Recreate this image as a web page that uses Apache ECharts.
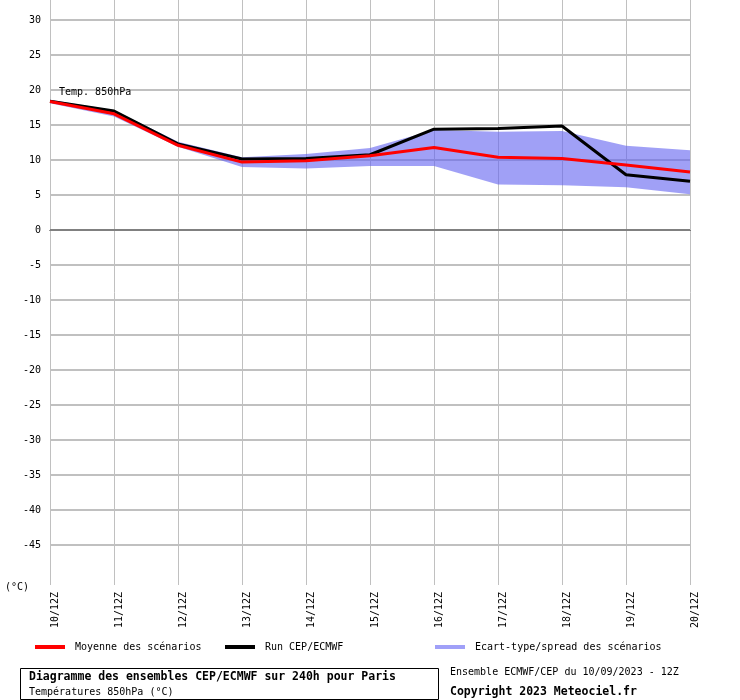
<!DOCTYPE html>
<html>
<head>
<meta charset="utf-8">
<script src="https://cdn.jsdelivr.net/npm/echarts@6/dist/echarts.min.js"></script>
<style>
html,body{margin:0;padding:0;background:#fff;}
#chart{width:740px;height:700px;}
</style>
</head>
<body>
<div id="chart"></div>
<script>
const categories = ['10/12Z','11/12Z','12/12Z','13/12Z','14/12Z','15/12Z','16/12Z','17/12Z','18/12Z','19/12Z','20/12Z'];
const meanVals   = [18.35, 16.6, 12.1, 9.7, 9.9, 10.6, 11.8, 10.4, 10.2, 9.3, 8.3];
const runVals    = [18.4, 17.0, 12.3, 10.15, 10.2, 10.75, 14.4, 14.5, 14.85, 7.9, 6.95];
const spreadHigh = [18.6, 17.1, 12.6, 10.4, 10.85, 11.7, 14.3, 14.05, 14.15, 12.05, 11.4];
const spreadLow  = [18.1, 16.2, 11.9, 9.0, 8.8, 9.15, 9.15, 6.5, 6.4, 6.1, 5.1];
const yTicks = [30, 25, 20, 15, 10, 5, 0, -5, -10, -15, -20, -25, -30, -35, -40, -45];
const yMin = -50.714, yMax = 32.857;

const MONO = '"DejaVu Sans Mono", monospace';
const names = {
  mean: 'Moyenne des scénarios',
  run: 'Run CEP/ECMWF',
  spread: 'Ecart-type/spread des scénarios'
};

const chart = echarts.init(document.getElementById('chart'), null, {renderer: 'canvas'});
const spreadDiff = spreadHigh.map((h, i) => +(h - spreadLow[i]).toFixed(3));

function legendFor(name, color, left) {
  return {
    data: [{name: name, itemStyle: {color: color}}],
    left: left, top: 640, padding: 0,
    icon: 'rect', itemWidth: 30, itemHeight: 4,
    selectedMode: false,
    textStyle: {fontFamily: MONO, fontSize: 10, color: '#000', lineHeight: 14, padding: [0, 0, 0, 5]}
  };
}

chart.setOption({
  animation: false,
  backgroundColor: '#fff',
  title: [
    {
      text: 'Diagramme des ensembles CEP/ECMWF sur 240h pour Paris',
      subtext: 'Températures 850hPa (°C)',
      left: 20, top: 668,
      padding: [2, 43, 2, 9],
      itemGap: 2,
      borderColor: '#000', borderWidth: 1,
      textStyle: {fontFamily: MONO, fontSize: 11.5, fontWeight: 'bold', color: '#000', lineHeight: 14},
      subtextStyle: {fontFamily: MONO, fontSize: 10, color: '#000', lineHeight: 12}
    },
    {
      text: 'Ensemble ECMWF/CEP du 10/09/2023 - 12Z',
      subtext: 'Copyright 2023 Meteociel.fr',
      left: 450, top: 665, padding: 0, itemGap: 7,
      textStyle: {fontFamily: MONO, fontSize: 10, fontWeight: 'normal', color: '#000', lineHeight: 14},
      subtextStyle: {fontFamily: MONO, fontSize: 11.5, fontWeight: 'bold', color: '#000', lineHeight: 12}
    }
  ],
  legend: [
    legendFor(names.mean, '#ff0000', 35),
    legendFor(names.run, '#000000', 225),
    legendFor(names.spread, '#a0a0f8', 435)
  ],
  grid: {left: 50, right: 50, top: 0, bottom: 115, containLabel: false},
  xAxis: {
    type: 'category',
    data: categories,
    boundaryGap: false,
    axisLine: {show: true, lineStyle: {color: '#000', width: 1}},
    axisTick: {show: false},
    splitLine: {show: true, interval: 0, lineStyle: {color: '#c0c0c0', width: 1}},
    axisLabel: {
      interval: 0, rotate: 90, margin: 7, verticalAlign: 'top',
      fontFamily: MONO, fontSize: 10, color: '#000'
    }
  },
  yAxis: {
    type: 'value',
    min: yMin, max: yMax,
    axisLine: {show: false},
    axisTick: {show: false},
    splitLine: {show: false},
    axisLabel: {
      customValues: yTicks,
      margin: 9, fontFamily: MONO, fontSize: 10, color: '#000'
    }
  },
  graphic: [
    {type: 'text', left: 59, top: 87, style: {text: 'Temp. 850hPa', font: '10px ' + MONO, fill: '#000'}, z: 50},
    {type: 'text', left: 5, top: 582, style: {text: '(°C)', font: '10px ' + MONO, fill: '#000'}, z: 50}
  ],
  series: [
    {
      name: 'grid',
      type: 'line',
      data: [],
      silent: true,
      z: 1,
      markLine: {
        silent: true, symbol: 'none', animation: false, z: 1,
        label: {show: false},
        lineStyle: {color: '#c0c0c0', width: 2, type: 'solid'},
        data: yTicks.map(v => v === 0
          ? {yAxis: v, lineStyle: {color: '#808080', width: 2, type: 'solid'}}
          : {yAxis: v})
      }
    },
    {
      name: 'bandLow',
      type: 'line',
      data: spreadLow,
      stack: 'band',
      symbol: 'none',
      silent: true,
      lineStyle: {width: 0, opacity: 0},
      z: 2
    },
    {
      name: names.spread,
      type: 'line',
      data: spreadDiff,
      stack: 'band',
      symbol: 'none',
      silent: true,
      itemStyle: {color: '#a0a0f8'},
      lineStyle: {width: 0, opacity: 0},
      areaStyle: {color: 'rgb(96,96,240)', opacity: 0.6},
      z: 2
    },
    {
      name: names.run,
      type: 'line',
      data: runVals,
      symbol: 'none',
      itemStyle: {color: '#000'},
      lineStyle: {color: '#000', width: 3},
      z: 3
    },
    {
      name: names.mean,
      type: 'line',
      data: meanVals,
      symbol: 'none',
      itemStyle: {color: '#ff0000'},
      lineStyle: {color: '#ff0000', width: 3},
      z: 4
    }
  ]
});
</script>
</body>
</html>
